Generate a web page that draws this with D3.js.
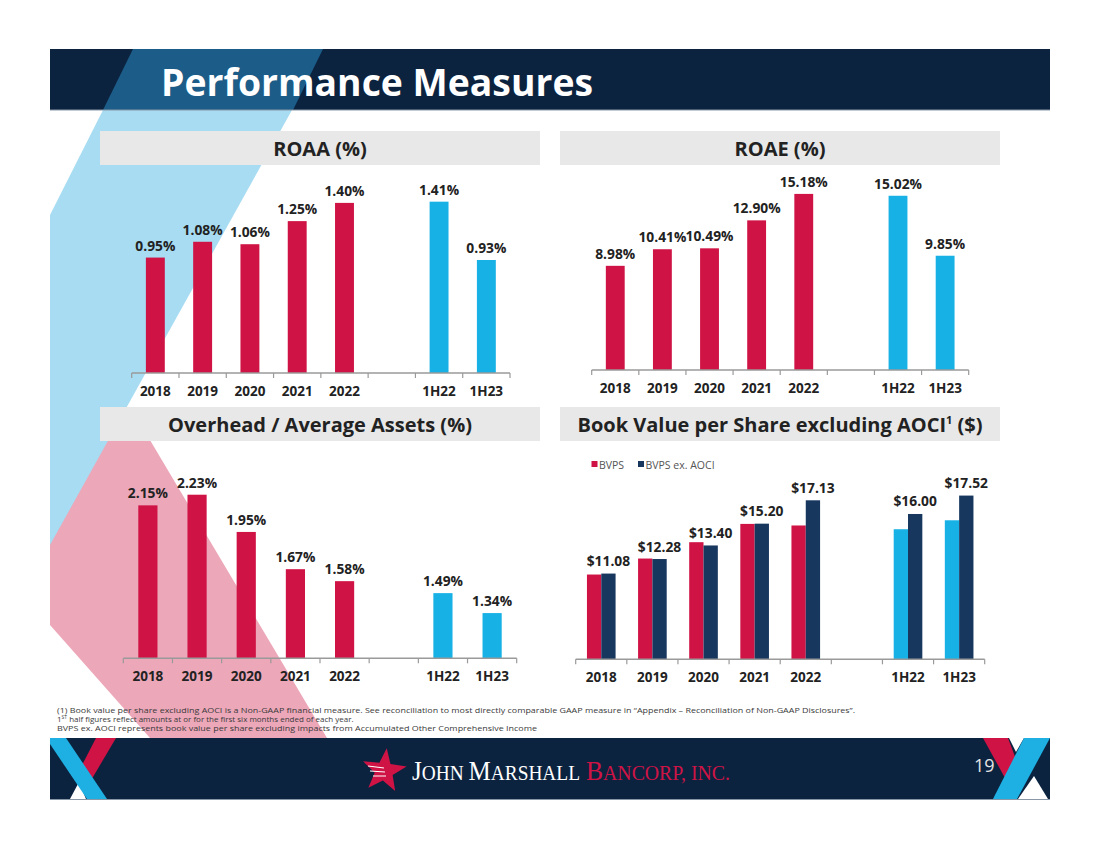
<!DOCTYPE html>
<html>
<head>
<meta charset="utf-8">
<script src="https://cdn.jsdelivr.net/npm/d3@7"></script>
<style>
  body { margin: 0; background: #fff; }
  svg { display: block; font-family: "Open Sans", sans-serif; }
</style>
</head>
<body>
<svg id="slide" width="1100" height="849"></svg>
<script>
// categories (blank slot between annual and half-year figures)
const periods = ["2018", "2019", "2020", "2021", "2022", " ", "1H22", "1H23"];
const halfYears = ["1H22", "1H23"];

const roaa = [0.95, 1.08, 1.06, 1.25, 1.40, null, 1.41, 0.93];
const roae = [8.98, 10.41, 10.49, 12.90, 15.18, null, 15.02, 9.85];
const overhead = [2.15, 2.23, 1.95, 1.67, 1.58, null, 1.49, 1.34];
const bvps = [11.00, 12.32, 13.67, 15.18, 15.05, null, 14.74, 15.48];
const bvpsExAoci = [11.08, 12.28, 13.40, 15.20, 17.13, null, 16.00, 17.52];

const seriesNames = ["BVPS", "BVPS ex. AOCI"];

const footnotes = [
  "(1) Book value per share excluding AOCI is a Non-GAAP financial measure. See reconciliation to most directly comparable GAAP measure in \u201cAppendix \u2013 Reconciliation of Non-GAAP Disclosures\u201d.",
  "half figures reflect amounts at or for the first six months ended of each year.",
  "BVPS ex. AOCI represents book value per share excluding impacts from Accumulated Other Comprehensive Income"
];

const RED = "#cf1345", LIGHTBLUE = "#17b1e6", NAVY = "#17375e", DARK = "#0c2340";
const TEXT = "#222";

const svg = d3.select("#slide");

// ---- slide background decoration ----
const deco = svg.append("g");
deco.append("polygon")
  .attr("points", "50,430 144,430 327,738 150,738 50,625")
  .attr("fill", "#eca7b9");
deco.append("polygon")
  .attr("points", "103,110 292,110 50,545 50,215")
  .attr("fill", "#a7dcf2");

// header band
deco.append("rect").attr("x", 50).attr("y", 49).attr("width", 1000).attr("height", 61).attr("fill", DARK);
deco.append("polygon").attr("points", "133,49 323,49 293,110 103,110").attr("fill", "#1b5d88");
deco.append("line").attr("x1", 50).attr("x2", 1050).attr("y1", 110).attr("y2", 110)
  .attr("stroke", "#8a97a6").attr("stroke-width", 1.2);
svg.append("text")
  .attr("x", 161).attr("y", 95.5)
  .attr("fill", "#fff")
  .attr("font-weight", "bold")
  .attr("font-size", 37.5)
  .attr("textLength", 432).attr("lengthAdjust", "spacingAndGlyphs")
  .text("Performance Measures");

// footer band
const foot = svg.append("g");
foot.append("rect").attr("x", 50).attr("y", 738).attr("width", 1000).attr("height", 61).attr("fill", DARK);
foot.append("line").attr("x1", 50).attr("x2", 1050).attr("y1", 799.5).attr("y2", 799.5)
  .attr("stroke", "#8a97a6").attr("stroke-width", 1.2);
foot.append("polygon").attr("points", "96,738 116,738 90,782 79,771").attr("fill", RED);
foot.append("polygon").attr("points", "70,799 86,799 79,782").attr("fill", "#fff");
foot.append("polygon").attr("points", "50,738 66,738 107,799 87,799 50,744").attr("fill", "#1fb0e3");
foot.append("polygon").attr("points", "983,738 1008,738 1020,770 1005,778").attr("fill", RED);
foot.append("polygon").attr("points", "1009,738 1024,738 1016,752").attr("fill", "#fff");
foot.append("polygon").attr("points", "1024,738 1050,738 1017,799 993,799").attr("fill", "#1fb0e3");
foot.append("polygon").attr("points", "1018,799 1048,799 1034,776").attr("fill", "#fff");
foot.append("text").attr("x", 974).attr("y", 772).attr("fill", "#e4e4e4")
  .attr("font-size", 18).text("19");

// logo: star + name
const star = d3.range(10).map(i => {
  const r = i % 2 === 0 ? 23 : 9.5;
  const a = -Math.PI / 2 + i * Math.PI / 5 + 0.12;
  return [384 + r * Math.cos(a), 771 + r * Math.sin(a)];
});
foot.append("polygon").attr("points", star.map(p => p.join(",")).join(" ")).attr("fill", RED);
foot.append("path").attr("d", "M368,766 L384,768 M370,771 L385,772 M373,776 L386,776")
  .attr("stroke", "#fff").attr("stroke-width", 1.2);
const logoParts = [
  { t: "J", s: 26.5, c: "#fff" }, { t: "OHN ", s: 20.5, c: "#fff" },
  { t: "M", s: 26.5, c: "#fff" }, { t: "ARSHALL", s: 20.5, c: "#fff" }
];
const logoParts2 = [
  { t: "B", s: 26.5, c: RED }, { t: "ANCORP, INC.", s: 20.5, c: RED }
];
[[logoParts, 412, 168], [logoParts2, 586, 144]].forEach(([parts, x0, len]) => {
  const t = foot.append("text").attr("x", x0).attr("y", 780)
    .attr("font-family", "'Liberation Serif', serif")
    .attr("textLength", len).attr("lengthAdjust", "spacingAndGlyphs");
  parts.forEach(p => t.append("tspan").attr("font-size", p.s).attr("fill", p.c).text(p.t));
});

// ---- panel title boxes ----
const panels = [
  { x: 100, y: 131, title: "ROAA (%)" },
  { x: 560, y: 131, title: "ROAE (%)" },
  { x: 100, y: 407, title: "Overhead / Average Assets (%)" },
  { x: 560, y: 407, title: "Book Value per Share excluding AOCI" }
];
panels.forEach(p => {
  svg.append("rect").attr("x", p.x).attr("y", p.y).attr("width", 440).attr("height", 34)
    .attr("fill", "#e8e8e8");
  const t = svg.append("text")
    .attr("x", p.x + 220).attr("y", p.y + 25)
    .attr("text-anchor", "middle")
    .attr("font-weight", "bold").attr("font-size", 20).attr("fill", TEXT)
    .text(p.title);
  if (p.title.startsWith("Book")) {
    t.append("tspan").attr("font-size", 11).attr("dy", -8).text("1");
    t.append("tspan").attr("dy", 8).text(" ($)");
  }
});

// ---- bar chart helper ----
function drawAxis(g, x, baseY) {
  const [x0, x1] = x.range();
  g.append("line").attr("x1", x0).attr("x2", x1).attr("y1", baseY).attr("y2", baseY)
    .attr("stroke", "#9a9a9a").attr("stroke-width", 1.5);
  const edges = periods.map(d => x(d)).concat([x1]);
  g.selectAll(".tick").data(edges).join("line")
    .attr("x1", d => d).attr("x2", d => d)
    .attr("y1", baseY).attr("y2", baseY + 5)
    .attr("stroke", "#9a9a9a").attr("stroke-width", 1.2);
  g.selectAll(".xlab").data(periods).join("text")
    .attr("x", d => x(d) + x.bandwidth() / 2)
    .attr("y", baseY + 22.5)
    .attr("text-anchor", "middle")
    .attr("font-weight", "bold").attr("font-size", 13.5).attr("fill", TEXT)
    .text(d => d);
}

function simpleBars(opts) {
  const x = d3.scaleBand().domain(periods).range(opts.xRange).padding(0);
  const y = d3.scaleLinear().domain(opts.yDomain).range(opts.yRange);
  const g = svg.append("g");
  const rows = periods.map((p, i) => ({ p, v: opts.values[i] })).filter(d => d.v != null);
  const bw = x.bandwidth() * opts.barRatio;
  g.selectAll("rect").data(rows).join("rect")
    .attr("x", d => x(d.p) + (x.bandwidth() - bw) / 2)
    .attr("width", bw)
    .attr("y", d => y(d.v))
    .attr("height", d => y(opts.yDomain[0]) - y(d.v))
    .attr("fill", d => halfYears.includes(d.p) ? LIGHTBLUE : RED);
  g.selectAll(".val").data(rows).join("text")
    .attr("x", d => x(d.p) + x.bandwidth() / 2)
    .attr("y", d => y(d.v) - 7)
    .attr("text-anchor", "middle")
    .attr("font-weight", "bold").attr("font-size", 13.8).attr("fill", TEXT)
    .text(d => d3.format(".2f")(d.v) + "%");
  drawAxis(g, x, y(opts.yDomain[0]));
}

simpleBars({ values: roaa, xRange: [131.7, 510], yDomain: [0, 1.5], yRange: [373, 373 - 1.5 * 121.5], barRatio: 0.4 });
simpleBars({ values: roae, xRange: [591.7, 968.7], yDomain: [0, 16], yRange: [370, 370 - 16 * 11.6], barRatio: 0.4 });
simpleBars({ values: overhead, xRange: [123.3, 516.7], yDomain: [1, 2.5], yRange: [658.3, 658.3 - 1.5 * 133], barRatio: 0.39 });

// ---- grouped BVPS chart ----
(function () {
  const x = d3.scaleBand().domain(periods).range([575.7, 984.7]).padding(0);
  const inner = d3.scaleBand().domain(seriesNames).range([0, x.bandwidth() * 0.56]);
  const off = (x.bandwidth() - x.bandwidth() * 0.56) / 2;
  const y = d3.scaleLinear().domain([4, 18]).range([659.3, 659.3 - 14 * 12.11]);
  const g = svg.append("g");
  const rows = [];
  periods.forEach((p, i) => {
    if (bvps[i] == null) return;
    rows.push({ p, s: seriesNames[0], v: bvps[i] });
    rows.push({ p, s: seriesNames[1], v: bvpsExAoci[i] });
  });
  g.selectAll("rect").data(rows).join("rect")
    .attr("x", d => x(d.p) + off + inner(d.s))
    .attr("width", inner.bandwidth())
    .attr("y", d => y(d.v))
    .attr("height", d => y(4) - y(d.v))
    .attr("fill", d => d.s === seriesNames[1] ? NAVY : (halfYears.includes(d.p) ? LIGHTBLUE : RED));
  g.selectAll(".val").data(rows.filter(d => d.s === seriesNames[1])).join("text")
    .attr("x", d => x(d.p) + off + inner(d.s) + inner.bandwidth() / 2)
    .attr("y", d => y(d.v) - 7.5)
    .attr("text-anchor", "middle")
    .attr("font-weight", "bold").attr("font-size", 13.8).attr("fill", TEXT)
    .text(d => "$" + d3.format(".2f")(d.v));
  drawAxis(g, x, y(4));

  // legend
  const leg = [{ n: seriesNames[0], c: RED, x: 591.5 }, { n: seriesNames[1], c: NAVY, x: 638 }];
  leg.forEach(l => {
    g.append("rect").attr("x", l.x).attr("y", 461).attr("width", 6).attr("height", 6).attr("fill", l.c);
    g.append("text").attr("x", l.x + 7.5).attr("y", 468.5)
      .attr("font-size", 10.5).attr("fill", "#555").text(l.n);
  });
})();

// ---- footnotes ----
const fn = svg.append("g").attr("font-size", 8).attr("fill", "#3a3a3a");
fn.append("text").attr("x", 57).attr("y", 713).attr("textLength", 798).attr("lengthAdjust", "spacingAndGlyphs").text(footnotes[0]);
const l2 = fn.append("text").attr("x", 57).attr("y", 722);
l2.append("tspan").text("1");
l2.append("tspan").attr("font-size", 5).attr("dy", -3).text("ST");
l2.append("tspan").attr("dy", 3).text(" " + footnotes[1]);
fn.append("text").attr("x", 57).attr("y", 731).attr("textLength", 480).attr("lengthAdjust", "spacingAndGlyphs").text(footnotes[2]);
</script>
</body>
</html>
